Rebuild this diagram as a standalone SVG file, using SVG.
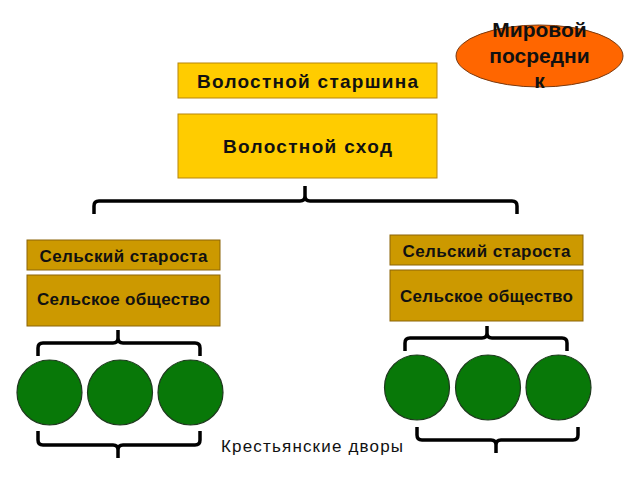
<svg xmlns="http://www.w3.org/2000/svg" width="640" height="480" viewBox="0 0 640 480">
<style>
.top{fill:#FFCC00;stroke:#B8860B;stroke-width:1}
.low{fill:#CC9900;stroke:#8B6508;stroke-width:1}
.house{fill:#087808;stroke:#1E3A1E;stroke-width:1.2}
.t{font-family:"Liberation Sans",Arial,sans-serif;font-weight:bold;fill:#111;text-anchor:middle}
.br{fill:none;stroke:#000;stroke-width:3.5;stroke-linecap:butt;stroke-linejoin:round}
</style>
<rect width="640" height="480" fill="#fff"/>
<g id="connectors">
<path class="br" d="M94,214 V206 Q94,201 99,201 H300 Q305,201 305,196 V186 M305,196 Q305,201 310,201 H512 Q517,201 517,206 V214"/>
<path class="br" d="M38,356 V348 Q38,343 43,343 H113 Q118,343 118,338 V330 M118,338 Q118,343 123,343 H195 Q200,343 200,348 V356"/>
<path class="br" d="M405,351 V343 Q405,338 410,338 H482 Q487,338 487,333 V326 M487,333 Q487,338 492,338 H562 Q567,338 567,343 V351"/>
<path class="br" d="M38,431 V440 Q38,445 43,445 H113 Q118,445 118,450 V458 M118,450 Q118,445 123,445 H195 Q200,445 200,440 V431"/>
<path class="br" d="M417,427 V435 Q417,440 422,440 H491 Q496,440 496,445 V453 M496,445 Q496,440 501,440 H573 Q578,440 578,435 V427"/>
</g>
<g id="mirovoy">
<ellipse cx="539.5" cy="56" rx="83.5" ry="31" fill="#FF6600" stroke="#7A3A10" stroke-width="1"/>
<text class="t" x="539.5" y="37" font-size="21">Мировой</text>
<text class="t" x="539.5" y="63" font-size="21">посредни</text>
<text class="t" x="539.5" y="88" font-size="21">к</text>
</g>
<g id="starshina">
<rect class="top" x="178" y="63" width="259" height="35"/>
<text class="t" x="307.5" y="88" font-size="19" textLength="221" lengthAdjust="spacing">Волостной старшина</text>
</g>
<g id="skhod">
<rect class="top" x="178" y="114" width="259" height="64"/>
<text class="t" x="307.5" y="153" font-size="19" textLength="169" lengthAdjust="spacing">Волостной сход</text>
</g>
<g id="starosta-left">
<rect class="low" x="27" y="240" width="193" height="30"/>
<text class="t" x="123.5" y="262" font-size="17" textLength="168" lengthAdjust="spacing">Сельский староста</text>
</g>
<g id="obshchestvo-left">
<rect class="low" x="27" y="275" width="193" height="51"/>
<text class="t" x="123.5" y="305" font-size="17" textLength="173" lengthAdjust="spacing">Сельское общество</text>
</g>
<g id="starosta-right">
<rect class="low" x="390" y="235" width="193" height="30"/>
<text class="t" x="486.5" y="257" font-size="17" textLength="168" lengthAdjust="spacing">Сельский староста</text>
</g>
<g id="obshchestvo-right">
<rect class="low" x="390" y="270" width="193" height="51"/>
<text class="t" x="486.5" y="302" font-size="17" textLength="173" lengthAdjust="spacing">Сельское общество</text>
</g>
<g id="dvory-left">
<circle class="house" cx="49.5" cy="392.5" r="32.5"/>
<circle class="house" cx="120" cy="392.5" r="32.5"/>
<circle class="house" cx="190.5" cy="392.5" r="32.5"/>
</g>
<g id="dvory-right">
<circle class="house" cx="417" cy="387.5" r="32.5"/>
<circle class="house" cx="488" cy="387.5" r="32.5"/>
<circle class="house" cx="558.5" cy="387.5" r="32.5"/>
</g>
<g id="label">
<text x="312" y="452" font-family="'Liberation Sans',Arial,sans-serif" font-size="17" fill="#111" text-anchor="middle" textLength="182" lengthAdjust="spacing">Крестьянские дворы</text>
</g>
</svg>
